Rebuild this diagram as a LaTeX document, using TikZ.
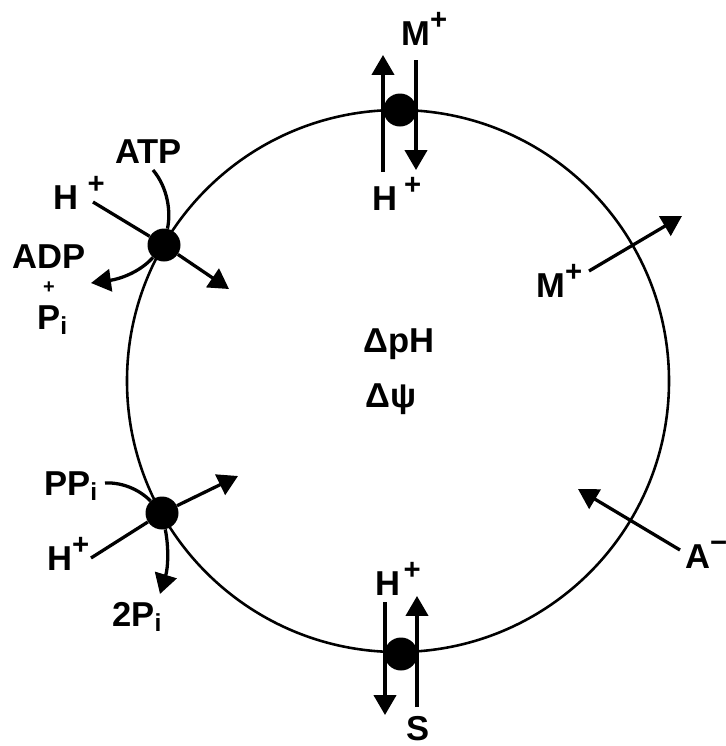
\documentclass[tikz,border=0pt]{standalone}
\usepackage{fontspec}
\setmainfont{Liberation Sans}
\usetikzlibrary{arrows.meta}
\newcommand{\supx}[2][0pt]{\hspace{#1}\raisebox{0.45em}{\fontsize{25}{25}\selectfont #2}}
\newcommand{\subx}[1]{\raisebox{-0.15em}{\fontsize{21}{21}\selectfont #1}}
\begin{document}
\begin{tikzpicture}[x=0.03cm,y=-0.03cm,
  membrane/.style={line width=2.2pt},
  arr/.style={line width=2.8pt,-{Triangle[length=17pt,width=19pt]}},
  plain/.style={line width=2.8pt},
  dot/.style={circle,fill=black,inner sep=0pt,minimum size=0.99cm},
  lbl/.style={inner sep=0pt,font=\bfseries\fontsize{29.5}{34}\selectfont,anchor=base west},
  small/.style={inner sep=0pt,font=\bfseries\fontsize{17}{17}\selectfont},
]
\useasboundingbox (0,0) rectangle (726,746);
\coordinate (c) at (398,381);
\draw[membrane] (c) circle[radius=8.13cm];

% top antiporter
\node[dot] (dT) at (400,110) {};
\coordinate (tLb) at (383,172); \coordinate (tLt) at (383,55);
\coordinate (tRt) at (416,60);  \coordinate (tRb) at (416,170);
\draw[arr] (tLb) -- (tLt);
\draw[arr] (tRt) -- (tRb);
\node[lbl] (lMtop) at (401,45) {M\supx{+}};
\node[lbl] (lHtop) at (372,210) {H\supx[6pt]{+}};

% ATPase
\node[dot] (dA) at (164,245) {};
\coordinate (atpS) at (153,170);
\draw[plain] (atpS) .. controls (168,188) and (171,212) .. (dA);
\coordinate (hA) at (93,202);
\draw[plain] (hA) -- (dA);
\coordinate (aOut) at (229,289);
\draw[arr] (dA) -- (aOut);
\coordinate (adpT) at (91,283);
\draw[arr] (dA) .. controls (140,272) and (120,279) .. (adpT);
\node[lbl] (lATP) at (115,163) {ATP};
\node[lbl] (lHA) at (53,209) {H\supx[8pt]{+}};
\node[lbl] (lADP) at (12,268) {ADP};
\node[small] (lplus) at (49,288) {+};
\node[lbl] (lPi) at (37,329) {P\subx{i}};

% PPase
\node[dot] (dP) at (162,513) {};
\coordinate (ppS) at (105,483);
\draw[plain] (ppS) .. controls (125,482) and (142,492) .. (dP);
\coordinate (pOut) at (238,476);
\draw[arr] (dP) -- (pOut);
\coordinate (hP) at (91,558);
\draw[plain] (hP) -- (dP);
\coordinate (piT) at (160,594);
\draw[arr] (dP) .. controls (169,548) and (168,568) .. (piT);
\node[lbl] (lPP) at (44,495) {PP\subx{i}};
\node[lbl] (lHP) at (47,570) {H\supx{+}};
\node[lbl] (l2P) at (112,626) {2P\subx{i}};

% right side
\coordinate (mS) at (589,271); \coordinate (mT) at (682,216);
\draw[arr] (mS) -- (mT);
\node[lbl] (lMr) at (536,297) {M\supx{+}};
\coordinate (aS) at (680,550); \coordinate (aT) at (578,489);
\draw[arr] (aS) -- (aT);
\node[lbl] (lA) at (685,568) {A\supx{−}};

% bottom symporter
\node[dot] (dB) at (401,654) {};
\coordinate (bLt) at (385,602); \coordinate (bLb) at (385,715);
\coordinate (bRb) at (417,707); \coordinate (bRt) at (417,596);
\draw[arr] (bLt) -- (bLb);
\draw[arr] (bRb) -- (bRt);
\node[lbl] (lHb) at (375,595) {H\supx[3pt]{+}};
\node[lbl] (lS) at (406,740) {S};

% centre
\node[lbl] (ldpH) at (363,352) {ΔpH};
\node[lbl] (ldpsi) at (365,407) {Δψ};
\end{tikzpicture}
\end{document}
